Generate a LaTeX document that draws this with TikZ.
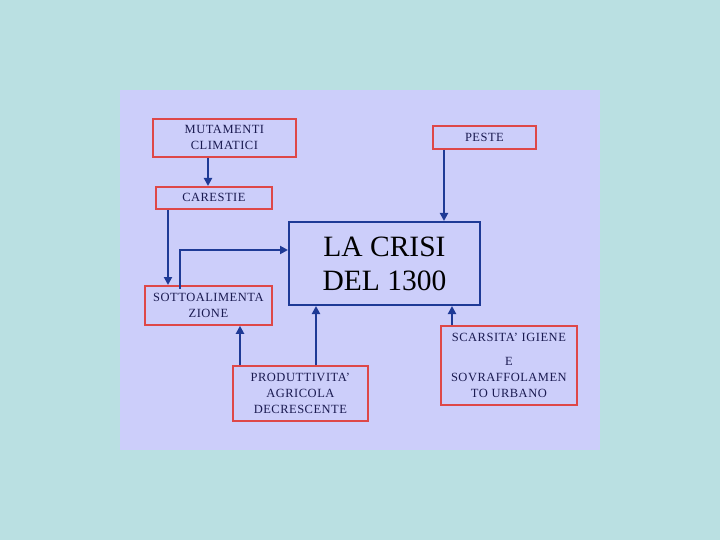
\documentclass[tikz,border=0pt]{standalone}
\usepackage{fontspec}
\setmainfont{Liberation Serif}[LetterSpace=4]
\newfontfamily\bigfont{Liberation Serif}
\usetikzlibrary{arrows.meta}
\definecolor{bgteal}{RGB}{186,224,226}
\definecolor{panel}{RGB}{204,206,250}
\definecolor{redb}{RGB}{222,72,72}
\definecolor{blueb}{RGB}{30,58,150}
\definecolor{txt}{RGB}{26,26,80}
\tikzset{
  redbox/.style={draw=redb, line width=1.8pt, fill=none, inner sep=0pt, align=center,
    text=txt, font=\fontsize{12.5}{16}\selectfont, anchor=north west},
  conn/.style={draw=blueb, line width=2.4pt, -{Triangle[length=8pt,width=8pt]}},
}
\begin{document}
\begin{tikzpicture}[x=1pt,y=-1pt]
\useasboundingbox (0,0) rectangle (720,540);
\fill[bgteal] (0,0) rectangle (720,540);
\fill[panel] (120,90) rectangle (600,450);
% boxes
\node[redbox, minimum width=143pt, minimum height=38pt] (mut) at (152,118) {MUTAMENTI\\CLIMATICI};
\node[redbox, minimum width=103pt, minimum height=23pt] (peste) at (432,125) {PESTE};
\node[redbox, minimum width=116pt, minimum height=22pt] (car) at (155,186) {CARESTIE};
\node[draw=blueb, line width=2pt, minimum width=191pt, minimum height=83pt, anchor=north west,
  inner sep=0pt, align=center, text=black, font=\bigfont\fontsize{29.5}{34}\selectfont] (crisi) at (288,221) {LA CRISI\\DEL 1300};
\node[redbox, minimum width=127pt, minimum height=39pt] (sotto) at (144,285) {SOTTOALIMENTA\\ZIONE};
\node[redbox, minimum width=135pt, minimum height=55pt] (prod) at (232,365) {PRODUTTIVITA'\\AGRICOLA\\DECRESCENTE};
\node[redbox, minimum width=136pt, minimum height=79pt] (scar) at (440,325) {SCARSITA' IGIENE\\[8pt]E\\SOVRAFFOLAMEN\\TO URBANO};
% connectors
\draw[conn] (mut.south -| 208,0) -- (car.north -| 208,0);
\draw[conn] (peste.south -| 444,0) -- (crisi.north -| 444,0);
\draw[conn] (car.south -| 168,0) -- (sotto.north -| 168,0);
\draw[conn] ([yshift=-4pt]sotto.north -| 180,0) -- (180,250) -- (crisi.west |- 0,250);
\draw[conn] (prod.north -| 240,0) -- (sotto.south -| 240,0);
\draw[conn] (prod.north -| 316,0) -- (crisi.south -| 316,0);
\draw[conn] (scar.north -| 452,0) -- (crisi.south -| 452,0);
\end{tikzpicture}
\end{document}
